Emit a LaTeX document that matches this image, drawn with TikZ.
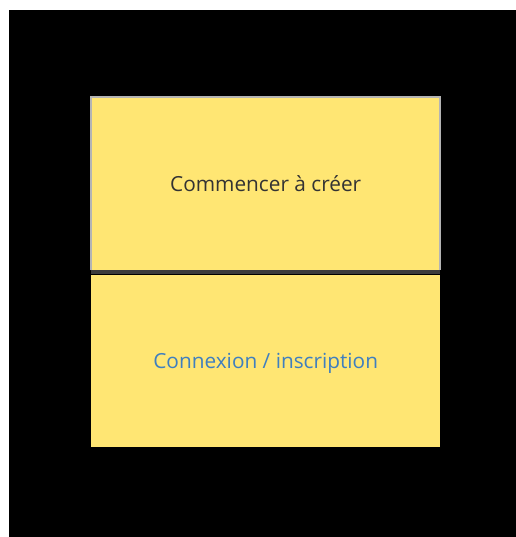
\documentclass[tikz,border=0pt]{standalone}
\usepackage{fontspec}
\setmainfont{Open Sans}
\usetikzlibrary{positioning}
\definecolor{padyellow}{HTML}{FFE673}
\definecolor{edgegray}{HTML}{B4B4B4}
\definecolor{sepgray}{HTML}{3C3C3C}
\definecolor{textgray}{HTML}{333333}
\definecolor{linkblue}{HTML}{3F7FBF}
\tikzset{
  tile/.style={fill=padyellow, inner sep=0pt, minimum width=349bp, minimum height=173bp,
    text height=14.8bp, text depth=0pt, font=\fontsize{20.8bp}{25bp}\selectfont},
}
\begin{document}
\begin{tikzpicture}[x=1bp,y=-1bp]
\useasboundingbox (0,0) rectangle (516,537);
\fill[black] (9,10) rectangle (516,537);
\node[tile, anchor=north west, text=textgray] (start) at (91,97) {Commencer à créer};
\node[tile, below=4bp of start, minimum height=172bp, text=linkblue] (login) {Connexion / inscription};
\draw[edgegray, line width=2bp] (start.south west) -- (start.north west) -- (start.north east) -- (start.south east);
\path (start.south west) ++(0,2) coordinate (sepw) (start.south east) ++(0,2) coordinate (sepe);
\draw[sepgray, line width=4bp] (sepw) -- (sepe);
\end{tikzpicture}
\end{document}
